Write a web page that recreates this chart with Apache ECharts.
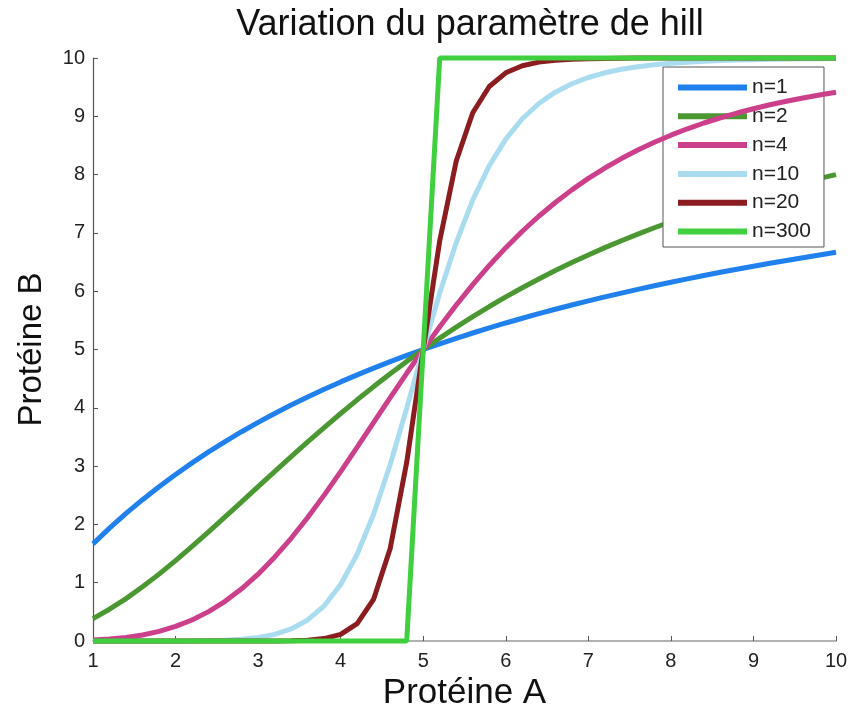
<!DOCTYPE html>
<html>
<head>
<meta charset="utf-8">
<script src="https://cdn.jsdelivr.net/npm/echarts@6/dist/echarts.min.js"></script>
<style>html,body{margin:0;padding:0;background:#fff}#c{width:852px;height:713px}</style>
</head>
<body>
<div id="c"></div>
<script>
var xs = [1.0,1.2,1.4,1.6,1.8,2.0,2.2,2.4,2.6,2.8,3.0,3.2,3.4,3.6,3.8,4.0,4.2,4.4,4.6,4.8,5.0,5.2,5.4,5.6,5.8,6.0,6.2,6.4,6.6,6.8,7.0,7.2,7.4,7.6,7.8,8.0,8.2,8.4,8.6,8.8,9.0,9.2,9.4,9.6,9.8,10.0];
var names = ['n=1','n=2','n=4','n=10','n=20','n=300'];
var colors = ['#1f80ee','#4b9833','#cc3f8b','#aadcf0','#8b1c1f','#3fcf3f'];
var n1 = [1.667,1.935,2.188,2.424,2.647,2.857,3.056,3.243,3.421,3.590,3.750,3.902,4.048,4.186,4.318,4.444,4.565,4.681,4.792,4.898,5.000,5.098,5.192,5.283,5.370,5.455,5.536,5.614,5.690,5.763,5.833,5.902,5.968,6.032,6.094,6.154,6.212,6.269,6.324,6.377,6.429,6.479,6.528,6.575,6.622,6.667];
var n2 = [0.385,0.545,0.727,0.929,1.147,1.379,1.622,1.873,2.128,2.387,2.647,2.906,3.162,3.414,3.661,3.902,4.137,4.364,4.584,4.796,5.000,5.196,5.384,5.564,5.737,5.902,6.059,6.210,6.354,6.491,6.622,6.747,6.866,6.979,7.088,7.191,7.290,7.384,7.474,7.560,7.642,7.720,7.795,7.866,7.935,8.000];
var n4 = [0.016,0.033,0.061,0.104,0.165,0.250,0.361,0.504,0.681,0.895,1.147,1.437,1.762,2.118,2.502,2.906,3.324,3.749,4.174,4.592,5.000,5.391,5.764,6.114,6.442,6.747,7.028,7.286,7.522,7.738,7.935,8.113,8.275,8.422,8.555,8.676,8.786,8.885,8.975,9.056,9.130,9.198,9.259,9.315,9.365,9.412];
var n10 = [0.000,0.000,0.000,0.000,0.000,0.001,0.003,0.007,0.014,0.030,0.060,0.114,0.207,0.361,0.604,0.970,1.489,2.179,3.028,3.994,5.000,5.968,6.834,7.565,8.152,8.609,8.958,9.219,9.414,9.558,9.666,9.746,9.806,9.850,9.884,9.910,9.929,9.944,9.956,9.965,9.972,9.978,9.982,9.985,9.988,9.990];
var n20 = [0,0,0,0,0,0,0,0,0,0,0.000,0.001,0.005,0.014,0.041,0.114,0.297,0.720,1.587,3.065,5.000,6.866,8.234,9.061,9.511,9.746,9.866,9.929,9.961,9.979,9.988,9.993,9.996,9.998,9.999,9.999,10,10,10,10,10,10,10,10,10,10];
var n300 = [0,0,0,0,0,0,0,0,0,0,0,0,0,0,0,0,0,0,0,0,5,10,10,10,10,10,10,10,10,10,10,10,10,10,10,10,10,10,10,10,10,10,10,10,10,10];
var yTicks = [0,1,2,3,4,5,6,7,8,9,10];
var xTicks = [1,2,3,4,5,6,7,8,9,10];

var all = [n1,n2,n4,n10,n20,n300];
function pairs(ys){ return xs.map(function(x,i){ return [x, ys[i]]; }); }

var chart = echarts.init(document.getElementById('c'), null, {renderer:'canvas'});
var font = 'Liberation Sans, Arial, Helvetica, sans-serif';
chart.setOption({
  animation: false,
  backgroundColor: '#ffffff',
  title: {
    text: 'Variation du paramètre de hill',
    left: 465, top: 2, textAlign: 'center',
    textStyle: {fontFamily: font, fontSize: 36, fontWeight: 'normal', color: '#111'}
  },
  grid: {left: 93, right: 16, top: 58, bottom: 72, containLabel: false, outerBoundsMode: 'none'},
  legend: {
    orient: 'vertical', left: 663, top: 67,
    data: names,
    icon: 'rect', itemWidth: 69, itemHeight: 6, itemGap: 7.8,
    padding: [10, 13, 5, 15],
    backgroundColor: '#fff', borderColor: '#555', borderWidth: 1,
    textStyle: {fontFamily: font, fontSize: 21, color: '#222', lineHeight: 21}
  },
  xAxis: {
    type: 'value', min: 1, max: 10, interval: 1,
    name: 'Protéine A', nameLocation: 'middle', nameGap: 34,
    nameTextStyle: {fontFamily: font, fontSize: 35, color: '#111'},
    axisLine: {show: true, lineStyle: {color: '#999', width: 1.5}},
    axisTick: {show: true, inside: true, length: 5, lineStyle: {color: '#555'}},
    axisLabel: {fontFamily: font, fontSize: 20, color: '#222', margin: 10,
      formatter: function(v){ return xTicks.indexOf(v) >= 0 ? String(v) : ''; }},
    splitLine: {show: false}
  },
  yAxis: {
    type: 'value', min: 0, max: 10, interval: 1,
    name: 'Protéine B', nameLocation: 'middle', nameGap: 45,
    nameTextStyle: {fontFamily: font, fontSize: 33, color: '#111'},
    axisLine: {show: true, lineStyle: {color: '#555', width: 1.2}},
    axisTick: {show: true, inside: true, length: 5, lineStyle: {color: '#555'}},
    axisLabel: {fontFamily: font, fontSize: 20, color: '#222', margin: 8,
      formatter: function(v){ return yTicks.indexOf(v) >= 0 ? String(v) : ''; }},
    splitLine: {show: false}
  },
  series: names.map(function(nm, i){
    return {
      name: nm, type: 'line', data: pairs(all[i]),
      showSymbol: false, symbol: 'none', smooth: false,
      lineStyle: {color: colors[i], width: 5},
      itemStyle: {color: colors[i]},
      clip: false, z: 2 + i
    };
  })
});
</script>
</body>
</html>
